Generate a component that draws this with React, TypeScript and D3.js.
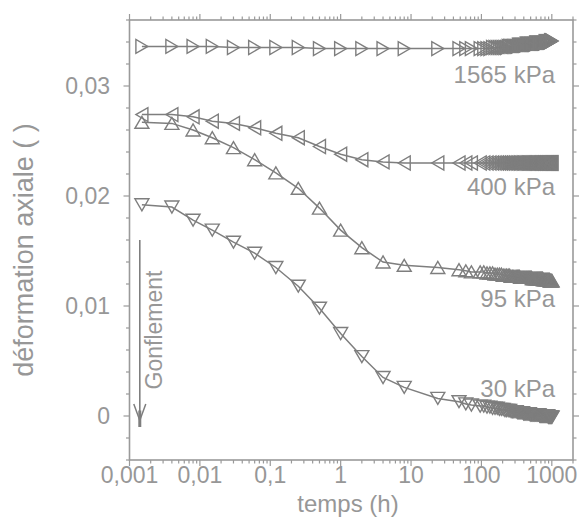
import React from "react";
import * as d3 from "d3";

// times (h)
const T = [0.0015, 0.004, 0.008, 0.015, 0.03, 0.06, 0.12, 0.25, 0.5, 1, 2, 4, 8, 24, 48, 60, 72,
  96, 108, 120, 132, 144, 156, 168, 180, 192, 204, 216,
  228, 240, 252, 264, 276, 288, 300, 312, 324, 336, 348,
  360, 372, 384, 396, 408, 420, 432, 444, 456, 468, 480,
  492, 504, 516, 528, 540, 552, 564, 576, 588, 600, 612,
  624, 636, 648, 660, 672, 684, 696, 708, 720, 732, 744,
  756, 768, 780, 792, 804, 816, 828, 840, 852, 864, 876,
  888, 900, 912, 924, 936, 948, 960, 972, 984, 996, 1008];

const S1565 = [0.0336, 0.0336, 0.0336, 0.0336, 0.0335, 0.0335, 0.0335, 0.0335, 0.0334, 0.0334, 0.0334, 0.0334, 0.0334, 0.0334, 0.0334, 0.0334, 0.0334,
  0.0334, 0.0334, 0.0334, 0.0334, 0.0335, 0.0335, 0.0335, 0.0335, 0.0335, 0.0335, 0.0335,
  0.0335, 0.0336, 0.0336, 0.0336, 0.0336, 0.0336, 0.0336, 0.0336, 0.0336, 0.0337, 0.0337,
  0.0337, 0.0337, 0.0337, 0.0337, 0.0337, 0.0337, 0.0338, 0.0338, 0.0338, 0.0338, 0.0338,
  0.0338, 0.0338, 0.0338, 0.0338, 0.0338, 0.0338, 0.0338, 0.0338, 0.0339, 0.0339, 0.0339,
  0.0339, 0.0339, 0.0339, 0.0339, 0.0339, 0.0339, 0.0339, 0.0339, 0.0339, 0.0339, 0.0339,
  0.0339, 0.0339, 0.0339, 0.0339, 0.0340, 0.0340, 0.0340, 0.0340, 0.0340, 0.0340, 0.0340,
  0.0340, 0.0340, 0.0340, 0.0340, 0.0340, 0.0340, 0.0341, 0.0341, 0.0341, 0.0341, 0.0341];

const S400 = [0.0274, 0.0274, 0.0272, 0.0268, 0.0266, 0.0262, 0.0257, 0.0253, 0.0245, 0.0238, 0.0233, 0.0231, 0.0230, 0.0230, 0.0230, 0.0230, 0.0230,
  0.0230, 0.0230, 0.0230, 0.0230, 0.0230, 0.0230, 0.0230, 0.0230, 0.0230, 0.0230, 0.0230,
  0.0230, 0.0230, 0.0230, 0.0230, 0.0230, 0.0230, 0.0230, 0.0230, 0.0230, 0.0230, 0.0230,
  0.0230, 0.0230, 0.0230, 0.0230, 0.0230, 0.0230, 0.0230, 0.0230, 0.0230, 0.0230, 0.0230,
  0.0230, 0.0230, 0.0230, 0.0230, 0.0230, 0.0230, 0.0230, 0.0230, 0.0230, 0.0230, 0.0230,
  0.0230, 0.0230, 0.0230, 0.0230, 0.0230, 0.0230, 0.0230, 0.0230, 0.0230, 0.0230, 0.0230,
  0.0230, 0.0230, 0.0230, 0.0230, 0.0230, 0.0230, 0.0230, 0.0230, 0.0230, 0.0230, 0.0230,
  0.0230, 0.0230, 0.0230, 0.0230, 0.0230, 0.0230, 0.0230, 0.0230, 0.0230, 0.0230, 0.0230];

const S95 = [0.0267, 0.0266, 0.0260, 0.0253, 0.0244, 0.0233, 0.0221, 0.0207, 0.0189, 0.0169, 0.0153, 0.0140, 0.0137, 0.0135, 0.0133, 0.0132, 0.0131,
  0.0131, 0.0131, 0.0130, 0.0130, 0.0130, 0.0129, 0.0129, 0.0129, 0.0129, 0.0128, 0.0128,
  0.0128, 0.0128, 0.0128, 0.0127, 0.0127, 0.0127, 0.0127, 0.0127, 0.0127, 0.0127, 0.0127,
  0.0126, 0.0126, 0.0126, 0.0126, 0.0126, 0.0126, 0.0126, 0.0126, 0.0126, 0.0126, 0.0126,
  0.0126, 0.0126, 0.0126, 0.0125, 0.0125, 0.0125, 0.0125, 0.0125, 0.0125, 0.0125, 0.0125,
  0.0125, 0.0125, 0.0125, 0.0125, 0.0125, 0.0125, 0.0125, 0.0125, 0.0125, 0.0125, 0.0125,
  0.0124, 0.0124, 0.0124, 0.0124, 0.0124, 0.0124, 0.0124, 0.0124, 0.0124, 0.0124, 0.0124,
  0.0124, 0.0124, 0.0124, 0.0124, 0.0124, 0.0123, 0.0123, 0.0123, 0.0123, 0.0123, 0.0123];

const S30 = [0.0192, 0.0190, 0.0178, 0.0169, 0.0158, 0.0148, 0.0135, 0.0118, 0.0098, 0.0075, 0.0054, 0.0035, 0.0026, 0.0016, 0.0013, 0.0011, 0.0010,
  0.0009, 0.0009, 0.0008, 0.0008, 0.0007, 0.0007, 0.0007, 0.0006, 0.0006, 0.0006, 0.0005,
  0.0005, 0.0005, 0.0005, 0.0004, 0.0004, 0.0004, 0.0004, 0.0004, 0.0003, 0.0003, 0.0003,
  0.0003, 0.0003, 0.0003, 0.0002, 0.0002, 0.0002, 0.0002, 0.0002, 0.0002, 0.0002, 0.0002,
  0.0001, 0.0001, 0.0001, 0.0001, 0.0001, 0.0001, 0.0001, 0.0001, 0.0001, 0.0001, 0.0001,
  0.0001, 0.0001, 0.0001, 0.0001, 0.0000, 0.0000, 0.0000, 0.0000, 0.0000, 0.0000, 0.0000,
  0.0000, 0.0000, 0.0000, 0.0000, 0.0000, 0.0000, 0.0000, 0.0000, 0.0000, 0.0000, 0.0000,
  -0.0001, -0.0001, -0.0001, -0.0001, -0.0001, -0.0001, -0.0001, -0.0001, -0.0001, -0.0001, -0.0001];

const SERIES = [
  { name: "1565 kPa", values: S1565, shape: "right", labelAt: 0.0303 },
  { name: "400 kPa", values: S400, shape: "left", labelAt: 0.0201 },
  { name: "95 kPa", values: S95, shape: "up", labelAt: 0.0099 },
  { name: "30 kPa", values: S30, shape: "down", labelAt: 0.0017 },
];

const X_TICK_VALUES = [0.001, 0.01, 0.1, 1, 10, 100, 1000];
const X_TICK_LABELS = ["0,001", "0,01", "0,1", "1", "10", "100", "1000"];
const Y_TICK_VALUES = [0, 0.01, 0.02, 0.03];
const Y_TICK_LABELS = ["0", "0,01", "0,02", "0,03"];

const W = 580, H = 525;
const L = 129.5, R = 573, TOP = 20, BOT = 460;
const AXIS = "#9a9a9a";
const TEXT = "#979797";
const MARK = "#7e7e7e";
const FONT = "'Liberation Sans', Arial, Helvetica, sans-serif";

function tri(shape: string, cx: number, cy: number) {
  const b = 14, h = 12;
  if (shape === "up") return `M${cx - b / 2},${cy + h / 2}L${cx + b / 2},${cy + h / 2}L${cx},${cy - h / 2}Z`;
  if (shape === "down") return `M${cx - b / 2},${cy - h / 2}L${cx + b / 2},${cy - h / 2}L${cx},${cy + h / 2}Z`;
  if (shape === "left") return `M${cx + h / 2},${cy - b / 2}L${cx + h / 2},${cy + b / 2}L${cx - h / 2},${cy}Z`;
  return `M${cx - h / 2},${cy - b / 2}L${cx - h / 2},${cy + b / 2}L${cx + h / 2},${cy}Z`;
}

export default function App() {
  const x = d3.scaleLog().domain([0.001, 2000]).range([L, R]);
  const y = d3.scaleLinear().domain([-0.004, 0.036]).range([BOT, TOP]);
  const xMinor = x.ticks();
  const yMinor = y.ticks(20);
  const line = d3.line<number>().x((_, i) => x(T[i])).y((v) => y(v));
  const ax = x(0.0014);

  return (
    <svg width={W} height={H} style={{ position: "absolute", left: 0, top: 0, background: "#fff" }} fontFamily={FONT}>
      <rect x={0} y={0} width={W} height={H} fill="#fff" />
      <rect x={L} y={TOP} width={R - L} height={BOT - TOP} fill="none" stroke={AXIS} strokeWidth={1.6} />
      {xMinor.map((t, i) => {
        const major = X_TICK_VALUES.some((v) => Math.abs(v - t) / v < 1e-6);
        const len = major ? 6 : 3.5;
        return (
          <g key={"xt" + i} stroke={AXIS} strokeWidth={1.2}>
            <line x1={x(t)} x2={x(t)} y1={BOT} y2={BOT + len} />
            <line x1={x(t)} x2={x(t)} y1={TOP} y2={TOP - len} />
          </g>
        );
      })}
      {yMinor.map((v, i) => {
        const major = Y_TICK_VALUES.some((m) => Math.abs(m - v) < 1e-9);
        const len = major ? 6 : 3.5;
        return (
          <g key={"yt" + i} stroke={AXIS} strokeWidth={1.2}>
            <line x1={L} x2={L - len} y1={y(v)} y2={y(v)} />
            <line x1={R} x2={R + len} y1={y(v)} y2={y(v)} />
          </g>
        );
      })}
      {X_TICK_VALUES.map((v, i) => (
        <text key={"xl" + i} x={x(v)} y={483} textAnchor="middle" fontSize={23} fill={TEXT}>{X_TICK_LABELS[i]}</text>
      ))}
      {Y_TICK_VALUES.map((v, i) => (
        <text key={"yl" + i} x={110} y={y(v)} dy="0.36em" textAnchor="end" fontSize={23} fill={TEXT}>{Y_TICK_LABELS[i]}</text>
      ))}
      <text x={348} y={512} textAnchor="middle" fontSize={24} fill={TEXT}>temps (h)</text>
      <text transform={`translate(33,250) rotate(-90)`} textAnchor="middle" fontSize={27} fill={TEXT}>déformation axiale ( )</text>

      {SERIES.map((s) => (
        <g key={s.name}>
          <path d={line(s.values) || ""} fill="none" stroke={MARK} strokeWidth={1.5} />
          {s.values.map((v, i) => (
            <path key={i} d={tri(s.shape, x(T[i]), y(v))} fill="none" stroke={MARK} strokeWidth={1.4} />
          ))}
          <text x={555} y={y(s.labelAt)} textAnchor="end" fontSize={24} fill={TEXT}>{s.name}</text>
        </g>
      ))}

      <line x1={ax} x2={ax} y1={y(0.016)} y2={y(-0.001)} stroke={MARK} strokeWidth={1.6} />
      <path d={`M${ax - 6},${y(0.0011)}L${ax},${y(-0.0004)}L${ax + 6},${y(0.0011)}`} fill="none" stroke={MARK} strokeWidth={1.5} />
      <line x1={ax} x2={ax} y1={y(0.0005)} y2={y(-0.001)} stroke={MARK} strokeWidth={3} />
      <text transform={`translate(${ax + 22},330) rotate(-90)`} textAnchor="middle" fontSize={23} fill={TEXT}>Gonflement</text>
    </svg>
  );
}
